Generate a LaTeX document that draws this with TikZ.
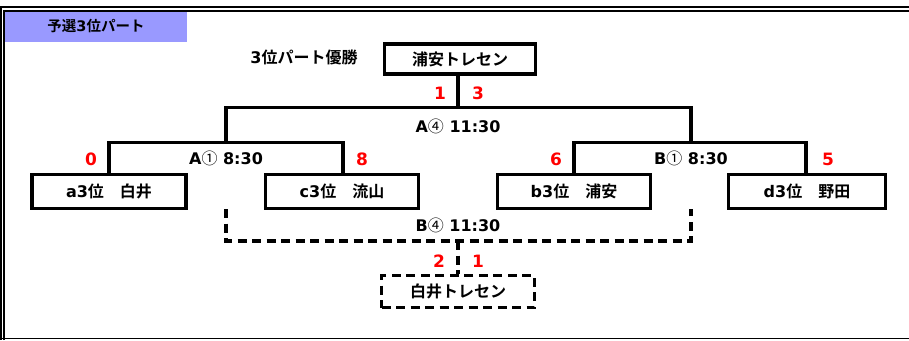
\documentclass[tikz,border=0pt]{standalone}
\usepackage{fontspec}
\setmainfont{DejaVu Sans Bold}
\newfontfamily\jp{Noto Sans CJK JP Bold}
\newfontfamily\jpr{Noto Sans CJK JP}
\newcommand{\J}[1]{{\jp #1}}
\newcommand{\C}[1]{{\jpr #1}}
\begin{document}
\begin{tikzpicture}[x=1pt,y=-1pt,
  team/.style={draw,line width=3.2pt,minimum width=152pt,minimum height=32pt,inner sep=0pt,font=\fontsize{16}{18}\selectfont},
  dteam/.style={team,dash pattern=on 9pt off 5.5pt},
  wire/.style={line width=3.2pt},
  dwire/.style={line width=3.2pt,dash pattern=on 9pt off 5.5pt},
  lbl/.style={font=\fontsize{16}{18}\selectfont,inner sep=0pt},
  score/.style={font=\fontsize{17}{18}\selectfont,text=red,inner sep=0pt}]
\useasboundingbox (0,0) rectangle (909,340);
% frame
\draw[line width=1.3pt] (1,340) -- (1,7) -- (909,7);
\draw[line width=1.3pt] (4,340) -- (4,11) -- (909,11);
\draw[line width=1.3pt] (0,338.8) -- (909,338.8);
\fill[fill={rgb,255:red,153;green,153;blue,255}] (4.6,11.7) rectangle (187,42);
\node[font=\fontsize{14.5}{16}\selectfont,inner sep=0pt] (title) at (96,26) {\J{予選}3\J{位パート}};
% champion
\node[lbl] (champlbl) at (304,57) {3\J{位パート優勝}};
\node[team,minimum width=151pt,minimum height=30pt] (top) at (460,59) {\J{浦安トレセン}};
% first round boxes
\node[team,minimum width=154pt,minimum height=34pt] (a) at (109,191.5) {a3\J{位　白井}};
\node[team,minimum width=153pt,minimum height=34pt] (c) at (342,191.5) {c3\J{位　流山}};
\node[team,minimum width=153pt,minimum height=34pt] (b) at (574,191.5) {b3\J{位　浦安}};
\node[team,minimum width=157pt,minimum height=34pt] (d) at (807,191.5) {d3\J{位　野田}};
\node[dteam,minimum width=153pt,minimum height=32pt] (bot) at (458,291.5) {\J{白井トレセン}};
% coordinates
\coordinate (a4m) at (458,107.5);
\coordinate (a4l) at (226,107.5);
\coordinate (a4r) at (691,107.5);
\coordinate (a1l) at (109,142.5);
\coordinate (a1r) at (343,142.5);
\coordinate (a1m) at (226,142.5);
\coordinate (b1l) at (574,142.5);
\coordinate (b1r) at (806,142.5);
\coordinate (b1m) at (691,142.5);
\coordinate (b4l) at (226,241);
\coordinate (b4r) at (691,241);
\coordinate (b4m) at (458,241);
\coordinate (b4lt) at (226,209);
\coordinate (b4rt) at (691,209);
% A4
\draw[wire] (top.south -| a4m) -- (a4m);
\draw[wire] (a1m) -- (a4l) -- (a4r) -- (b1m);
% A1, B1
\draw[wire] (a.north -| a1l) -- (a1l) -- (a1r) -- (c.north -| a1r);
\draw[wire] (b.north -| b1l) -- (b1l) -- (b1r) -- (d.north -| b1r);
% B4
\draw[dwire] (b4lt) -- (b4l) -- (b4r) -- (b4rt);
\draw[dwire] (b4m) -- (bot.north -| b4m);
% labels
\node[lbl] (a4t) at (458,126) {A\C{④} 11:30};
\node[lbl] (a1t) at (226,158.5) {A\C{①} 8:30};
\node[lbl] (b1t) at (691,158.5) {B\C{①} 8:30};
\node[lbl] (b4t) at (458,225) {B\C{④} 11:30};
% scores
\node[score] (s1) at (440,93) {1};
\node[score] (s2) at (478,93) {3};
\node[score] (s3) at (91,159) {0};
\node[score] (s4) at (362,159) {8};
\node[score] (s5) at (556,159) {6};
\node[score] (s6) at (828,159) {5};
\node[score] (s7) at (439,261) {2};
\node[score] (s8) at (478,261) {1};
\end{tikzpicture}
\end{document}
